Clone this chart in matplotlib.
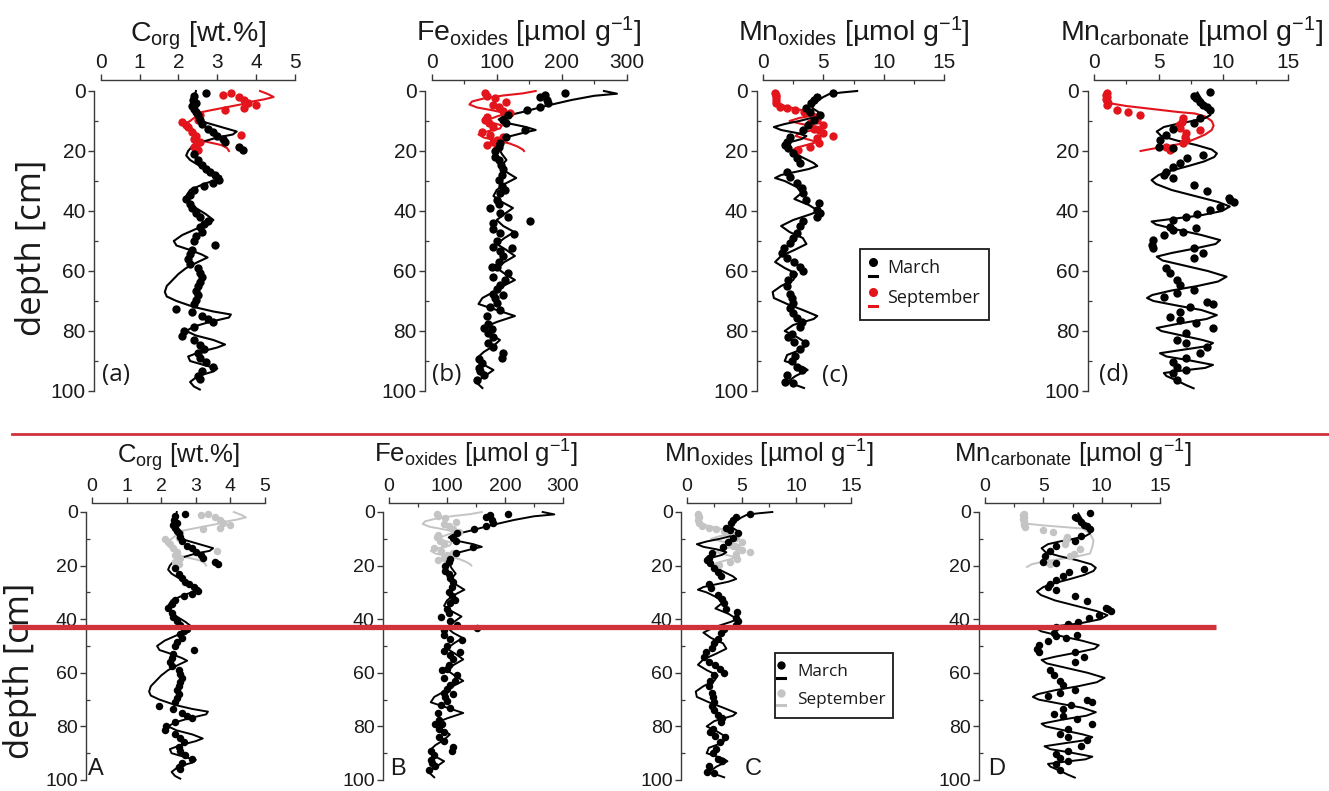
import matplotlib
matplotlib.use('Agg')
import matplotlib.pyplot as plt
from matplotlib.lines import Line2D
from matplotlib.patches import Rectangle
from matplotlib.ticker import MultipleLocator

# ---------------------------------------------------------------- data
# (depth [cm], value) pairs
corg_march = [(0.6, 2.7), (1.5, 2.4), (3, 2.38), (4, 2.45), (5, 2.35), (6, 2.4), (7, 2.45), (8, 2.5),
              (9.5, 2.55), (11, 2.6), (12.5, 2.75), (13.5, 2.9), (15, 3.0), (16, 3.15), (17, 3.2),
              (18.5, 3.55), (19.5, 3.65), (21, 2.4), (23, 2.5), (24.5, 2.6), (26, 2.7), (27, 2.8),
              (28, 2.95), (29.5, 3.05), (30.5, 2.9), (31.5, 2.65), (33, 2.4), (34.5, 2.3), (36, 2.2),
              (37.5, 2.3), (39, 2.35), (40.5, 2.45), (42, 2.55), (43.5, 2.75), (44.5, 2.65), (45.5, 2.55),
              (47, 2.6), (48.5, 2.45), (50, 2.4), (51.5, 2.95), (53, 2.35), (54.5, 2.3), (56, 2.25),
              (57.5, 2.3), (59, 2.5), (60.5, 2.55), (62, 2.6), (63.5, 2.55), (65, 2.5), (66.5, 2.45),
              (68, 2.5), (69.5, 2.45), (71, 2.4), (72.5, 1.95), (73.5, 2.35), (75, 2.6), (76, 2.75),
              (77, 2.9), (78.5, 2.4), (80, 2.15), (81.5, 2.1), (83, 2.4), (84.5, 2.55), (86, 2.65),
              (87.5, 2.5), (89, 2.55), (90.5, 2.7), (92, 2.9), (93.5, 2.6), (95, 2.5), (96, 2.55)]
corg_march_fit = [(0, 2.45), (3, 2.4), (6, 2.4), (9, 2.5), (10.5, 2.7), (12, 3.1), (13.5, 3.5), (14.5, 3.4),
                  (15.5, 3.0), (17, 2.6), (18.5, 2.35), (20, 2.25), (21.5, 2.2), (23, 2.3), (25, 2.55),
                  (27, 2.85), (28.5, 3.1), (29.5, 3.0), (31, 2.65), (33, 2.3), (35, 2.2), (37, 2.25),
                  (39, 2.45), (41, 2.7), (43, 2.9), (44.5, 2.75), (46, 2.45), (48, 2.1), (50, 1.88),
                  (51.5, 1.95), (53, 2.3), (54.5, 2.6), (55.5, 2.75), (57, 2.5), (59, 2.2), (61, 2.0),
                  (63, 1.85), (65, 1.7), (67, 1.65), (68.5, 1.7), (70, 1.95), (72, 2.4), (73.5, 2.9),
                  (74.5, 3.35), (75.5, 3.3), (77, 2.8), (78.5, 2.4), (80, 2.2), (81.5, 2.45), (83, 2.9),
                  (84.5, 3.2), (85.5, 3.0), (87, 2.55), (88.5, 2.25), (90, 2.3), (91.5, 2.7), (92.5, 3.0),
                  (93.5, 2.9), (95, 2.5), (97, 2.3), (98.5, 2.4), (99.5, 2.55)]
corg_sept = [(0.6, 3.35), (1.3, 3.15), (1.9, 3.55), (3, 3.7), (4, 3.8), (4.7, 4.0), (5.8, 3.7), (6.3, 3.2),
             (8, 2.55), (9.7, 2.5), (10.2, 2.1), (11.2, 2.2), (12, 2.25), (13.5, 2.35), (14.7, 3.6),
             (15, 2.45), (16, 2.4), (17, 2.55), (18, 2.45), (18.5, 2.4), (19.5, 2.5)]
corg_sept_fit = [(0, 4.1), (1, 4.3), (2, 4.45), (2.8, 4.2), (3.5, 3.9), (4.5, 3.6), (5.5, 3.2), (6.5, 2.8),
                 (7.3, 2.5), (8.5, 2.45), (10, 2.3), (11, 2.15), (12.5, 2.35), (14, 2.45), (15, 2.4),
                 (16, 2.45), (17, 2.75), (18, 3.1), (19, 3.25), (20, 3.3)]

fe_march = [(0.6, 205), (1.3, 174), (1.9, 167), (3, 177), (4, 179), (5.4, 167), (6.3, 146), (8, 118),
            (9.7, 110), (10.8, 115), (13, 144), (15.2, 115), (17.4, 105), (18.5, 103), (20, 97), (22, 97),
            (23, 103), (24.5, 106), (26, 110), (28, 108), (29.7, 103), (31.5, 108), (33, 113), (34, 105),
            (36.3, 100), (37.5, 103), (39, 90), (40.8, 105), (42, 118), (43.3, 151), (44, 95), (46, 95),
            (47.5, 105), (47.8, 126), (50, 100), (52, 95), (52.3, 123), (53.5, 105), (55, 110), (57, 103),
            (58.5, 100), (58.8, 92), (60.8, 118), (62, 95), (63, 113), (64.5, 105), (66, 100), (67.5, 95),
            (68, 110), (69, 97), (70.5, 100), (72, 90), (73, 105), (75, 85), (77.5, 87), (79, 80),
            (79.2, 92), (80.8, 87), (82, 95), (84, 87), (85.5, 95), (87.5, 110), (89, 108), (89.2, 72),
            (90.8, 77), (92.4, 72), (93.5, 74), (94.7, 80), (96.3, 69)]
fe_march_fit = [(0, 265), (0.9, 285), (1.6, 250), (3, 215), (5, 175), (7, 140), (8.5, 110), (9.5, 103),
                (10.5, 112), (12, 145), (13, 160), (14, 140), (15.5, 113), (17, 103), (19, 103), (21, 108),
                (23, 115), (25, 107), (27, 115), (29, 130), (31, 112), (33, 100), (35, 95), (37, 108),
                (39, 125), (41, 112), (43, 100), (45, 110), (47, 127), (49, 112), (51, 100), (53, 115),
                (55, 128), (57, 112), (59, 100), (61, 113), (63, 128), (65, 110), (67, 95), (69, 78),
                (71, 72), (73, 100), (75, 128), (77, 100), (79, 78), (81, 90), (83, 105), (85, 95),
                (87, 80), (89, 70), (91, 78), (93, 95), (95, 82), (97, 68), (99, 78)]
fe_sept = [(0.8, 82), (1.5, 85), (2.4, 97), (3.6, 115), (4.5, 95), (5.2, 103), (6.5, 110), (7.4, 121),
           (8.5, 85), (9.5, 82), (10.8, 88), (12, 95), (13.5, 77), (14.7, 90), (15.2, 110), (16.2, 100),
           (17, 95), (18, 85), (19, 100)]
fe_sept_fit = [(0, 160), (0.8, 140), (1.5, 110), (2.5, 80), (3.5, 62), (4.5, 58), (5.5, 70), (6.5, 95),
               (7.5, 115), (8.5, 100), (9.5, 88), (10.5, 92), (11.5, 108), (12.5, 105), (13.5, 85),
               (14.5, 72), (15.5, 80), (16.5, 100), (17.5, 120), (18.5, 132), (19.5, 140), (20, 142)]

mnox_march = [(0.6, 5.8), (1.9, 4.45), (3, 4.2), (4.1, 4.0), (5.8, 3.6), (6.9, 3.9), (8, 4.7), (9.7, 4.2),
              (11.3, 3.75), (13, 3.3), (15.2, 2.25), (17, 2.0), (18, 1.8), (19, 2.1), (20.8, 2.5),
              (22.4, 2.8), (24, 3.1), (27, 2.0), (28.5, 2.2), (30.8, 2.8), (32.4, 3.2), (34, 3.35),
              (36.3, 3.6), (37.4, 4.6), (39.7, 4.45), (40.8, 4.7), (42, 4.45), (43.5, 3.35), (45, 3.1),
              (47.5, 2.8), (49, 2.5), (50.8, 2.25), (52.4, 1.7), (54, 1.55), (55.8, 2.0), (57, 2.6),
              (58.5, 3.05), (60, 3.35), (61, 2.5), (63, 2.1), (65, 2.0), (67.5, 2.25), (69, 2.4),
              (70.8, 2.5), (72.4, 2.25), (74, 2.5), (75.8, 2.8), (77, 3.2), (78.5, 3.1), (81, 2.4),
              (82, 2.1), (83.5, 2.6), (84, 3.5), (86, 3.05), (88.5, 2.65), (90, 2.4), (92, 2.8),
              (93, 3.2), (94.7, 2.0), (97, 1.8), (97.5, 2.5)]
mnox_march_fit = [(0, 7.8), (0.5, 6.5), (1, 5.5), (2, 5.0), (3, 4.6), (4, 4.3), (5, 4.0), (6, 4.2), (7, 4.6),
                  (8, 4.5), (9, 4.0), (10, 3.0), (11, 1.8), (12, 0.9), (13, 1.5), (14, 2.8), (15, 3.6),
                  (16, 3.2), (17, 2.3), (18, 1.7), (19, 1.8), (20, 2.3), (22, 3.2), (24, 4.2), (25, 4.5),
                  (26, 3.8), (28, 1.5), (29, 1.0), (30, 1.8), (32, 2.8), (34, 3.2), (36, 2.6), (38, 3.8),
                  (40, 4.6), (41, 4.0), (43, 2.5), (45, 1.5), (47, 2.2), (49, 3.3), (51, 3.6), (53, 2.6),
                  (55, 1.5), (57, 1.0), (59, 1.8), (61, 2.8), (63, 2.5), (65, 1.5), (67, 0.8), (69, 0.9),
                  (71, 2.0), (73, 3.3), (75, 4.5), (76, 4.2), (78, 2.5), (80, 1.8), (82, 2.8), (84, 3.6),
                  (86, 3.3), (88, 2.0), (90, 1.8), (92, 3.3), (93, 3.7), (95, 2.7), (97, 2.0), (99, 3.4)]
mnox_sept = [(0.6, 1.0), (1.3, 1.05), (1.9, 1.1), (3, 1.05), (4.1, 1.1), (5.2, 1.4), (5.8, 2.0), (6.3, 2.65),
             (7, 3.4), (8.5, 4.3), (9.7, 4.45), (10.8, 3.9), (11.3, 5.0), (12.5, 4.2), (13, 4.6), (14, 5.0),
             (15, 5.8), (15.8, 4.45), (17.4, 4.6), (18.5, 3.9), (19.7, 2.9)]
mnox_sept_fit = [(0, 1.0), (1, 1.1), (2, 1.15), (3, 1.2), (4, 1.3), (5, 1.8), (6, 2.8), (7, 3.9), (8, 4.4),
                 (9, 3.0), (10, 2.2), (11, 3.2), (12, 4.6), (13, 4.2), (14, 3.0), (15, 2.7), (16, 3.6),
                 (17, 4.5), (18, 3.6), (19, 2.7), (20, 2.4)]

mncarb_march = [(0.4, 9.0), (1.7, 7.7), (2.4, 7.9), (3.6, 8.2), (4.7, 8.45), (5.2, 8.7), (6.3, 9.0),
                (9.1, 8.2), (10.8, 7.7), (12.8, 6.1), (14.7, 5.6), (16.3, 5.1), (18.5, 5.0), (19, 6.1),
                (21.3, 8.45), (22.4, 7.2), (24, 6.65), (25.2, 6.1), (27, 5.6), (28, 5.4), (29, 6.1),
                (31.3, 7.7), (33.2, 8.7), (35.8, 10.4), (36.3, 10.5), (36.9, 10.8), (38.6, 9.75),
                (39.7, 8.95), (41, 8.0), (41.9, 7.15), (43, 6.1), (45.2, 5.9), (45.8, 7.9), (46.3, 6.1),
                (46.9, 6.9), (48, 5.4), (49.7, 4.6), (51.3, 4.45), (52.4, 4.6), (52.4, 7.7), (54, 8.45),
                (55.8, 7.7), (59.1, 5.6), (60.8, 5.9), (63, 6.4), (64.7, 6.65), (66.3, 7.7), (67.4, 6.4),
                (68.6, 5.4), (70.2, 8.7), (71, 9.2), (71.9, 7.4), (73.6, 6.65), (75.2, 5.9), (76.3, 6.65),
                (77.4, 7.9), (79.1, 9.2), (80.8, 7.15), (83, 6.4), (84.1, 7.15), (85.2, 8.7), (87.4, 8.2),
                (89.1, 7.15), (90.2, 6.1), (91.9, 6.4), (93, 7.15), (94.1, 6.1), (96.3, 6.4)]
mncarb_march_fit = [(0.5, 8.0), (2, 8.2), (4, 8.5), (6, 8.9), (8, 9.0), (9, 8.6), (10, 7.6), (11, 6.4),
                    (12, 5.4), (13.5, 4.85), (15, 5.2), (16.5, 6.4), (18, 7.9), (19.5, 9.1), (20.8, 9.5),
                    (22, 9.3), (23.5, 8.5), (25, 7.3), (26.5, 6.0), (28, 5.0), (29.7, 4.45), (31, 4.8),
                    (33, 6.0), (35, 7.8), (37, 9.6), (38.5, 10.5), (40, 9.9), (41.5, 8.2), (42.5, 6.3),
                    (43.5, 4.45), (44.5, 4.8), (46, 6.2), (48, 8.3), (49.7, 9.75), (51, 9.4), (52.5, 7.8),
                    (54, 6.0), (55.2, 4.85), (56.5, 5.3), (58, 6.8), (60, 8.8), (61.9, 10.25), (63.5, 9.6),
                    (65, 8.0), (66.5, 6.0), (68, 4.5), (69, 4.1), (70, 4.6), (71.5, 6.4), (73, 8.3),
                    (74.7, 9.5), (76, 8.7), (77.5, 6.6), (79, 4.85), (80, 5.2), (81.5, 6.8), (83, 8.4),
                    (84, 9.2), (85, 8.8), (86.3, 6.8), (87.4, 5.1), (88.5, 5.6), (89.8, 7.4), (91.3, 9.2),
                    (92.3, 8.6), (93.2, 6.8), (94, 5.4), (95, 5.6), (96.5, 6.4), (98, 7.1), (99.1, 7.7)]
mncarb_sept = [(0.6, 1.0), (1.2, 0.95), (1.9, 1.0), (2.6, 0.95), (3.3, 1.0), (4, 1.05), (4.7, 1.0),
               (6.3, 1.75), (7, 2.6), (8, 3.55), (9.1, 6.9), (10.2, 6.8), (11.3, 6.6), (12.4, 6.65),
               (13, 8.2), (14.1, 7.15), (15.2, 7.0), (16.3, 7.1), (17.4, 6.9), (18.5, 5.6), (19.7, 5.9)]
mncarb_sept_fit = [(0, 1.0), (2, 1.0), (4, 1.1), (5, 2.5), (6, 4.5), (7, 6.5), (7.5, 7.8), (8.5, 8.6),
                   (10, 9.1), (11.5, 9.25), (13, 9.1), (14.5, 8.6), (16, 7.8), (17.4, 7.0), (18.5, 5.5),
                   (19.5, 4.2), (20, 3.6)]
# September Mn-carbonate as given in the lower figure version
mncarb_sept_v2 = [(0.6, 3.3), (1.2, 3.25), (1.9, 3.3), (2.6, 3.25), (3.3, 3.3), (4, 3.35), (4.7, 3.3),
                  (5.6, 3.4), (6.8, 5.0), (7.5, 5.85), (9.3, 7.0), (10.5, 6.9), (11.8, 6.85), (13.7, 8.1),
                  (15.5, 7.6), (16.5, 7.3), (18.6, 5.3), (19.3, 5.6)]
mncarb_sept_fit_v2 = [(0, 3.3), (2, 3.3), (4.3, 3.4), (5, 5.0), (5.7, 7.0), (6.2, 8.4), (8, 9.0),
                      (10.6, 9.3), (13, 9.2), (15.5, 9.0), (16.5, 8.0), (17.5, 6.5), (18.5, 5.0),
                      (19.5, 4.0), (20.5, 3.6)]

titles = [r'C$_{\mathrm{org}}$ [wt.%]',
          r'Fe$_{\mathrm{oxides}}$ [µmol g$^{-1}$]',
          r'Mn$_{\mathrm{oxides}}$ [µmol g$^{-1}$]',
          r'Mn$_{\mathrm{carbonate}}$ [µmol g$^{-1}$]']
x_ranges = [(0, 5), (0, 300), (0, 15), (0, 15)]
x_major = [1, 100, 5, 5]
x_minor = [None, 50, 2.5, 2.5]
labels_top = ['(a)', '(b)', '(c)', '(d)']
labels_bottom = ['A', 'B', 'C', 'D']
legend_labels = ['March', 'September']

# ---------------------------------------------------------------- style
W, H = 1329, 791
plt.rcParams['font.family'] = ['Liberation Sans', 'DejaVu Sans']
plt.rcParams['mathtext.fontset'] = 'custom'
plt.rcParams['mathtext.rm'] = 'Liberation Sans'
plt.rcParams['mathtext.it'] = 'Liberation Sans:italic'
plt.rcParams['mathtext.bf'] = 'Liberation Sans:bold'

RED = '#e3141b'
GREY = '#c4c4c4'
LINE_RED = '#d0323b'
SPINE = '#3a3a3a'
PX = 72 / 100  # points per pixel

fig = plt.figure(figsize=(W / 100, H / 100), dpi=100)


def fx(x):
    return x / W


def fy(y):
    return 1 - y / H


def unzip(pairs):
    return [p[0] for p in pairs], [p[1] for p in pairs]


series = [
    (corg_march, corg_march_fit, corg_sept, corg_sept_fit),
    (fe_march, fe_march_fit, fe_sept, fe_sept_fit),
    (mnox_march, mnox_march_fit, mnox_sept, mnox_sept_fit),
    (mncarb_march, mncarb_march_fit, mncarb_sept, mncarb_sept_fit),
]
series_bottom = list(series)
series_bottom[3] = (mncarb_march, mncarb_march_fit, mncarb_sept_v2, mncarb_sept_fit_v2)


def draw_row(xspans, ytop, ybot, top_off, left_off, sep_color, ser, tick_fs, title_fs,
             title_base, ms, lw, panel_labels, label_pos, label_font, label_fs, xpad):
    for i, (x0, x1) in enumerate(xspans):
        ax = fig.add_axes([fx(x0), fy(ybot), (x1 - x0) / W, (ybot - ytop) / H])
        ax.set_facecolor('none')
        ax.set_xlim(*x_ranges[i])
        ax.set_ylim(100, 0)
        for s in ['right', 'bottom']:
            ax.spines[s].set_visible(False)
        ax.spines['top'].set_position(('outward', top_off * PX))
        ax.spines['left'].set_position(('outward', left_off * PX))
        ax.spines['top'].set_bounds(*x_ranges[i])
        ax.spines['left'].set_bounds(0, 100)
        for s in ['top', 'left']:
            ax.spines[s].set_color(SPINE)
            ax.spines[s].set_linewidth(1.0)
        ax.xaxis.tick_top()
        ax.xaxis.set_major_locator(MultipleLocator(x_major[i]))
        if x_minor[i]:
            ax.xaxis.set_minor_locator(MultipleLocator(x_minor[i]))
        ax.yaxis.set_major_locator(MultipleLocator(20))
        ax.yaxis.set_minor_locator(MultipleLocator(10))
        ax.tick_params(axis='both', which='major', direction='out', length=4,
                       width=1.0, color=SPINE, labelsize=tick_fs, labelcolor='#1a1a1a')
        ax.tick_params(axis='x', which='major', pad=xpad)
        ax.tick_params(axis='y', which='major', pad=2)
        ax.tick_params(axis='both', which='minor', direction='in', length=3,
                       width=0.9, color=SPINE)

        march, march_fit, sept, sept_fit = ser[i]
        d, v = unzip(sept_fit)
        ax.plot(v, d, color=sep_color, lw=lw, zorder=2, clip_on=False)
        d, v = unzip(march_fit)
        ax.plot(v, d, color='black', lw=lw, zorder=3, clip_on=False)
        d, v = unzip(sept)
        ax.plot(v, d, 'o', color=sep_color, ms=ms, mec='none', zorder=4, clip_on=False)
        d, v = unzip(march)
        ax.plot(v, d, 'o', color='black', ms=ms, mec='none', zorder=5, clip_on=False)

        fig.text(fx((x0 + x1) / 2), fy(title_base), titles[i], ha='center', va='baseline',
                 fontsize=title_fs, color='#1a1a1a')
        lx, ly = label_pos[i]
        fig.text(fx(lx), fy(ly), panel_labels[i], ha='left', va='center',
                 fontsize=label_fs, family=label_font, color='#1a1a1a')


# upper figure version
draw_row([(100.7, 295), (431.7, 626.7), (763, 944), (1094, 1288)], 91, 391, 11, 6.5, RED,
         series, 15, 20.5, 41, 6.0, 1.5, labels_top,
         [(102, 375), (432, 375), (822, 376), (1099, 375)], ['Open Sans', 'DejaVu Sans'], 17.5, 1.5)
# lower figure version
draw_row([(92, 265), (389, 563), (687, 851), (985, 1160)], 512, 780, 9, 6, GREY,
         series_bottom, 14, 18.5, 463, 5.4, 1.4, labels_bottom,
         [(88, 769), (390, 769), (745, 769), (988, 769)], ['Liberation Sans', 'DejaVu Sans'], 17, 1.5)

# depth labels
fig.text(fx(32), fy(248), 'depth [cm]', rotation=90, ha='center', va='center',
         fontsize=25, family=['Open Sans', 'DejaVu Sans'], color='#1a1a1a')
fig.text(fx(20), fy(671), 'depth [cm]', rotation=90, ha='center', va='center',
         fontsize=25, family=['Open Sans', 'DejaVu Sans'], color='#1a1a1a')


def legend_box(x0, y0, x1, y1, hx, rows, tx, colors, fs, ms):
    fig.add_artist(Rectangle((fx(x0), fy(y1)), (x1 - x0) / W, (y1 - y0) / H,
                             transform=fig.transFigure, facecolor='white',
                             edgecolor='#1a1a1a', lw=1.3, zorder=10))
    for (dot_y, dash_y, text_y), c, lab in zip(rows, colors, legend_labels):
        fig.add_artist(Line2D([fx(hx)], [fy(dot_y)], marker='o', ms=ms, color=c, mec='none',
                              transform=fig.transFigure, zorder=11))
        fig.add_artist(Line2D([fx(hx - 4), fx(hx + 4)], [fy(dash_y), fy(dash_y)], color=c,
                              lw=2.2, transform=fig.transFigure, zorder=11))
        fig.text(fx(tx), fy(text_y), lab, ha='left', va='center', fontsize=fs,
                 family=['Open Sans', 'DejaVu Sans'], color='#1a1a1a', zorder=12)


legend_box(860, 249, 989, 320, 873, [(262, 276, 268), (292, 306, 298)], 887,
           ['black', RED], 13, 6.5)
legend_box(775, 653, 893, 718, 781, [(665, 678, 672), (693, 705, 700)], 797,
           ['black', GREY], 12.3, 6.0)

# red separator lines
fig.add_artist(Line2D([fx(12), fx(1329)], [fy(434), fy(434)], color=LINE_RED, lw=2.0,
                      transform=fig.transFigure, zorder=20))
fig.add_artist(Line2D([fx(12), fx(1216)], [fy(627), fy(627)], color=LINE_RED, lw=3.8,
                      transform=fig.transFigure, zorder=20, solid_capstyle='butt'))

fig.savefig('out.png', dpi=100)
